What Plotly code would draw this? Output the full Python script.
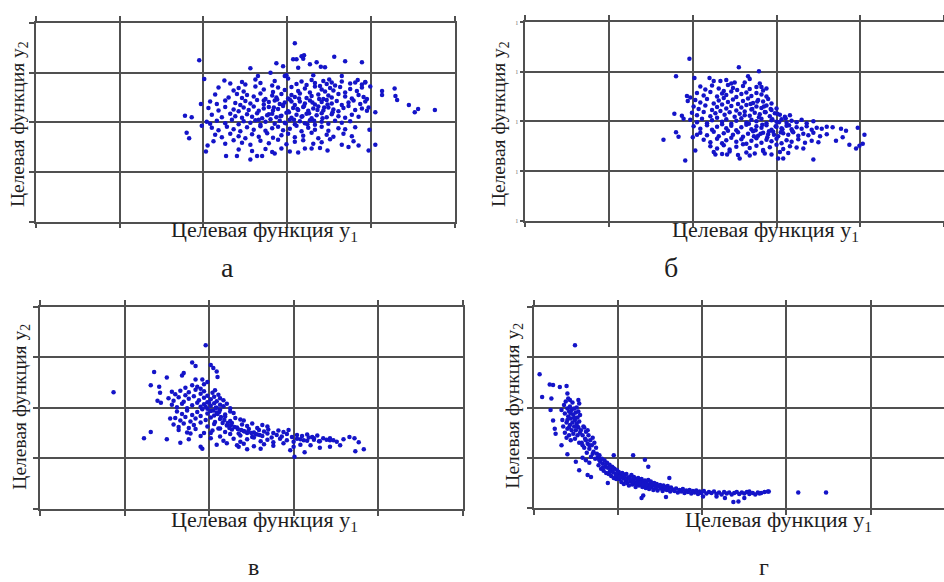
import plotly.graph_objects as go

W, H = 944, 582

# ---------------- data (grid units) ----------------
# panel а : (y1, y2)
pts_a = [
    (3.09,3.59),(1.95,3.25),(2.01,2.87),(2.56,3.09),(2.87,3.19),(2.95,3.13),(3.11,3.27),(3.17,3.33),
    (3.20,3.35),(3.19,3.28),(3.27,3.17),(3.35,3.21),(3.40,3.12),(3.45,3.11),(3.56,3.32),(3.69,3.23),
    (3.89,3.21),(3.13,3.10),(3.07,3.27),(2.80,3.00),(2.97,2.93),(2.99,2.95),(2.65,2.93),(3.31,2.95),
    (3.65,2.93),(3.81,2.80),(3.93,2.80),(3.99,2.72),(4.13,2.63),(4.13,2.55),(4.28,2.68),(4.29,2.53),
    (4.31,2.45),(4.45,2.35),(4.52,2.20),(4.56,2.27),(4.76,2.25),(4.05,2.20),(3.97,2.30),(3.95,2.47),
    (3.98,1.85),(4.05,1.55),(3.97,1.43),(1.78,2.13),(1.86,2.10),(1.80,1.79),(1.83,1.68),(1.98,1.93),
    (1.97,2.37),(2.03,1.41),(2.05,1.53),(2.27,1.32),(2.40,1.32),(2.56,1.25),(2.64,1.32),(2.70,1.32),
    (2.85,1.37),(2.93,1.47),(3.03,1.41),(3.13,1.39),(3.21,1.47),(3.29,1.47),(3.39,1.48),(3.48,1.43),
    (3.73,1.50),(3.85,1.53),
    (2.25,2.84),(2.32,2.78),(2.46,2.81),(2.50,2.76),(2.62,2.86),(2.68,2.79),(2.82,2.74),(2.85,2.83),
    (3.01,2.88),(3.11,2.77),(3.17,2.82),(3.23,2.75),(3.29,2.85),(3.33,2.79),(3.39,2.73),(3.43,2.83),
    (3.47,2.77),(3.50,2.86),(3.53,2.80),(3.57,2.74),(3.65,2.82),(3.75,2.78),(3.84,2.85),(3.89,2.76),
    (3.93,2.81),
    (2.18,2.70),(2.36,2.64),(2.42,2.69),(2.48,2.62),(2.62,2.72),(2.72,2.66),(2.83,2.61),(2.89,2.70),
    (2.97,2.65),(3.05,2.71),(3.13,2.63),(3.21,2.68),(3.27,2.60),(3.33,2.72),(3.41,2.66),(3.45,2.62),
    (3.51,2.69),(3.55,2.64),(3.63,2.71),(3.69,2.60),(3.75,2.67),(3.83,2.63),(3.89,2.70),
    (2.14,2.56),(2.30,2.50),(2.40,2.57),(2.46,2.49),(2.52,2.55),(2.60,2.52),(2.68,2.58),(2.74,2.47),
    (2.82,2.54),(2.87,2.50),(2.93,2.57),(3.01,2.48),(3.05,2.55),(3.09,2.51),(3.15,2.58),(3.23,2.49),
    (3.29,2.53),(3.37,2.56),(3.43,2.47),(3.49,2.54),(3.53,2.50),(3.61,2.57),(3.69,2.52),(3.77,2.48),
    (3.85,2.55),(3.91,2.51),
    (2.08,2.42),(2.16,2.37),(2.26,2.44),(2.38,2.39),(2.44,2.35),(2.50,2.43),(2.56,2.38),(2.64,2.45),
    (2.72,2.36),(2.78,2.41),(2.85,2.44),(2.91,2.37),(2.97,2.40),(3.03,2.46),(3.09,2.35),(3.15,2.42),
    (3.21,2.38),(3.27,2.44),(3.33,2.36),(3.41,2.41),(3.47,2.45),(3.53,2.38),(3.59,2.43),(3.65,2.35),
    (3.73,2.40),(3.79,2.44),(3.87,2.37),(3.93,2.42),
    (2.06,2.29),(2.18,2.24),(2.26,2.31),(2.36,2.26),(2.42,2.22),(2.48,2.30),(2.54,2.25),(2.60,2.32),
    (2.66,2.23),(2.72,2.28),(2.78,2.31),(2.83,2.24),(2.89,2.27),(2.95,2.33),(3.01,2.22),(3.07,2.29),
    (3.13,2.25),(3.19,2.31),(3.25,2.23),(3.31,2.28),(3.37,2.32),(3.43,2.24),(3.49,2.30),(3.55,2.26),
    (3.61,2.22),(3.67,2.29),(3.73,2.33),(3.81,2.25),(3.89,2.28),(3.95,2.23),
    (2.10,2.15),(2.22,2.10),(2.32,2.17),(2.38,2.12),(2.46,2.09),(2.52,2.16),(2.58,2.11),(2.64,2.18),
    (2.70,2.08),(2.76,2.14),(2.82,2.17),(2.87,2.10),(2.93,2.13),(2.99,2.19),(3.05,2.09),(3.11,2.15),
    (3.17,2.11),(3.23,2.17),(3.29,2.08),(3.35,2.14),(3.41,2.18),(3.47,2.10),(3.53,2.16),(3.61,2.12),
    (3.69,2.09),(3.77,2.15),(3.85,2.11),
    (2.04,2.01),(2.08,1.97),(2.16,2.03),(2.26,1.98),(2.34,2.05),(2.42,1.96),(2.48,2.02),(2.56,1.99),
    (2.62,2.04),(2.68,1.95),(2.74,2.01),(2.80,2.06),(2.85,1.97),(2.91,2.03),(2.97,1.99),(3.03,2.05),
    (3.09,1.96),(3.15,2.02),(3.21,1.98),(3.27,2.04),(3.33,1.95),(3.41,2.01),(3.49,1.97),(3.57,2.03),
    (3.65,1.99),(3.75,2.02),
    (2.10,1.89),(2.18,1.84),(2.28,1.91),(2.36,1.86),(2.44,1.82),(2.52,1.90),(2.60,1.85),(2.68,1.92),
    (2.74,1.83),(2.82,1.88),(2.89,1.91),(2.95,1.84),(3.03,1.87),(3.11,1.93),(3.17,1.82),(3.25,1.89),
    (3.33,1.85),(3.41,1.91),(3.49,1.83),(3.61,1.88),(3.69,1.86),(3.81,1.90),
    (2.14,1.75),(2.22,1.70),(2.32,1.77),(2.42,1.72),(2.50,1.68),(2.58,1.76),(2.66,1.71),(2.76,1.78),
    (2.83,1.69),(2.93,1.74),(3.01,1.77),(3.09,1.70),(3.19,1.73),(3.29,1.79),(3.37,1.68),(3.47,1.75),
    (3.55,1.71),(3.67,1.77),(3.77,1.72),
    (2.12,1.62),(2.26,1.57),(2.36,1.64),(2.46,1.59),(2.56,1.55),(2.68,1.63),(2.78,1.58),(2.89,1.65),
    (2.99,1.56),(3.09,1.61),(3.19,1.64),(3.31,1.57),(3.41,1.60),(3.51,1.66),(3.65,1.55),(3.79,1.62),
    (2.42,1.45),(2.58,1.42),(2.74,1.46),(2.82,1.40),
    (2.88,2.46),(2.95,2.35),(3.02,2.20),(3.08,2.05),(3.14,2.48),(3.20,2.33),(3.26,2.18),(3.32,2.03),
    (3.38,2.47),(3.44,2.30),(2.92,2.12),(2.98,1.98),(3.05,2.42),(3.12,2.27),(3.18,2.12),(3.24,1.96),
    (3.30,2.40),(3.36,2.25),(3.42,2.08),(2.84,2.30),(2.78,2.16),(2.72,2.44),(2.66,2.05),(3.48,2.36),
    (3.54,2.20),
]

# panel б : (y1, y2)
pts_b = [
    (1.96,3.26),(1.80,2.91),(2.02,2.87),(2.55,3.09),(2.79,3.01),(2.66,2.91),(2.68,2.85),(2.62,2.78),
    (2.80,2.76),(2.82,2.69),(2.20,2.87),(2.25,2.81),(2.33,2.81),(2.40,2.83),(2.46,2.76),(2.50,2.78),
    (1.93,2.51),(1.94,2.41),(1.97,2.48),(1.78,2.15),(1.87,2.11),(1.89,2.05),(1.65,1.63),(1.80,1.78),
    (1.83,1.69),(1.91,1.21),(2.00,1.68),(2.05,1.73),(2.03,1.41),(2.27,1.33),(2.41,1.33),(2.56,1.25),
    (2.68,1.31),(2.86,1.35),(3.02,1.25),(3.08,1.25),(3.44,1.23),(3.67,1.88),(3.77,1.85),(3.83,1.81),
    (3.97,1.87),(4.05,1.73),(4.03,1.55),(3.99,1.51),(3.95,1.45),(3.87,1.53),(3.71,1.61),(3.79,1.68),
    (2.09,2.70),(2.15,2.64),(2.23,2.72),(2.31,2.66),(2.37,2.61),(2.42,2.73),(2.48,2.67),(2.53,2.63),
    (2.60,2.71),(2.68,2.65),(2.76,2.69),(2.84,2.62),(2.88,2.66),
    (2.05,2.57),(2.13,2.52),(2.21,2.59),(2.29,2.50),(2.35,2.56),(2.40,2.53),(2.46,2.60),(2.52,2.49),
    (2.58,2.55),(2.64,2.58),(2.70,2.51),(2.76,2.57),(2.82,2.54),(2.88,2.50),
    (2.03,2.43),(2.09,2.38),(2.17,2.45),(2.25,2.36),(2.31,2.42),(2.37,2.47),(2.42,2.39),(2.48,2.44),
    (2.54,2.35),(2.60,2.41),(2.66,2.46),(2.72,2.37),(2.78,2.43),(2.84,2.40),(2.90,2.45),(2.94,2.36),
    (2.01,2.30),(2.07,2.25),(2.15,2.32),(2.23,2.23),(2.29,2.29),(2.35,2.34),(2.40,2.26),(2.46,2.31),
    (2.52,2.22),(2.58,2.28),(2.64,2.33),(2.70,2.24),(2.76,2.30),(2.82,2.27),(2.88,2.32),(2.94,2.23),
    (3.00,2.26),
    (1.99,2.17),(2.05,2.12),(2.13,2.19),(2.21,2.10),(2.27,2.16),(2.33,2.21),(2.38,2.13),(2.44,2.18),
    (2.50,2.09),(2.56,2.15),(2.62,2.20),(2.68,2.11),(2.74,2.17),(2.80,2.14),(2.86,2.19),(2.92,2.10),
    (2.98,2.16),(3.04,2.13),(3.10,2.09),(3.16,2.12),
    (1.97,2.03),(2.05,1.98),(2.11,2.05),(2.17,1.96),(2.23,2.02),(2.29,2.07),(2.35,1.99),(2.40,2.04),
    (2.46,1.95),(2.52,2.01),(2.58,2.06),(2.64,1.97),(2.70,2.03),(2.76,2.00),(2.82,2.05),(2.88,1.96),
    (2.94,2.02),(3.00,1.99),(3.06,2.04),(3.12,1.97),(3.18,2.01),(3.24,1.98),(3.30,2.03),(3.36,1.96),
    (3.44,2.00),
    (2.01,1.90),(2.09,1.85),(2.17,1.92),(2.23,1.83),(2.29,1.89),(2.35,1.94),(2.40,1.86),(2.46,1.91),
    (2.52,1.82),(2.58,1.88),(2.64,1.93),(2.70,1.84),(2.76,1.90),(2.82,1.87),(2.88,1.92),(2.94,1.83),
    (3.00,1.89),(3.06,1.86),(3.12,1.91),(3.18,1.84),(3.24,1.88),(3.30,1.85),(3.36,1.90),(3.42,1.83),
    (3.48,1.87),(3.54,1.85),(3.60,1.89),
    (2.09,1.77),(2.17,1.72),(2.25,1.79),(2.31,1.70),(2.37,1.76),(2.42,1.81),(2.48,1.73),(2.54,1.78),
    (2.60,1.69),(2.66,1.75),(2.72,1.80),(2.78,1.71),(2.84,1.77),(2.90,1.74),(2.96,1.79),(3.02,1.70),
    (3.08,1.76),(3.14,1.73),(3.20,1.78),(3.26,1.71),(3.32,1.75),(3.38,1.72),(3.44,1.77),(3.52,1.70),
    (3.60,1.74),
    (2.13,1.63),(2.21,1.58),(2.29,1.65),(2.35,1.56),(2.40,1.62),(2.46,1.67),(2.52,1.59),(2.58,1.64),
    (2.64,1.55),(2.70,1.61),(2.76,1.66),(2.82,1.57),(2.88,1.63),(2.94,1.60),(3.00,1.65),(3.06,1.56),
    (3.12,1.62),(3.18,1.59),(3.26,1.64),(3.34,1.57),(3.42,1.61),(3.50,1.58),
    (2.21,1.50),(2.29,1.45),(2.37,1.52),(2.44,1.43),(2.52,1.49),(2.60,1.54),(2.68,1.46),(2.76,1.51),
    (2.84,1.42),(2.92,1.48),(3.00,1.53),(3.08,1.44),(3.16,1.50),(3.24,1.47),(3.32,1.45),
    (2.25,1.38),(2.35,1.34),(2.44,1.39),(2.54,1.32),(2.64,1.37),(2.74,1.35),(2.84,1.40),(2.94,1.33),
    (3.04,1.38),(3.14,1.36),
    (2.62,2.12),(2.67,1.95),(2.71,2.25),(2.75,1.82),(2.79,2.08),(2.83,1.93),(2.87,2.18),(2.91,1.80),
    (2.95,2.04),(2.99,1.90),(3.03,1.98),(3.07,1.84),(3.11,2.06),(3.15,1.92),(3.19,1.80),(2.73,1.70),
    (2.81,1.75),(2.89,1.68),(2.97,1.73),(3.05,1.78),(2.85,2.30),(2.93,2.25),(2.77,2.40),(2.69,2.35),
    (3.01,2.15),
]

# panel в : (y1, y2)
pts_c = [
    (0.87,2.31),(1.96,3.24),(1.80,2.90),(1.84,2.83),(2.02,2.85),(2.05,2.79),(2.09,2.72),(2.10,2.61),
    (1.35,2.71),(1.50,2.60),(1.31,2.45),(1.41,2.42),(1.42,2.30),(1.39,2.14),(1.43,2.10),(1.70,2.69),
    (1.68,2.64),(1.84,2.56),(1.92,2.56),(1.98,2.51),(1.23,1.40),(1.31,1.52),(1.50,1.38),(1.54,1.79),
    (1.66,1.31),(1.76,1.38),(1.90,1.23),(1.92,1.19),(2.09,1.27),(2.35,1.23),(2.45,1.18),(2.61,1.19),
    (3.01,1.03),(2.96,1.16),(3.13,1.12),(3.31,1.21),(3.43,1.23),(3.55,1.26),(3.66,1.42),(3.72,1.40),
    (3.77,1.32),(3.83,1.18),(3.73,1.14),(3.47,1.36),(3.43,1.40),
    (1.80,2.45),(1.86,2.42),(1.90,2.38),(1.94,2.47),(1.72,2.40),
    (1.56,2.32),(1.60,2.27),(1.66,2.34),(1.72,2.25),(1.76,2.31),(1.84,2.36),(1.90,2.28),(1.94,2.33),
    (1.98,2.24),(2.04,2.30),(2.07,2.35),(2.11,2.26),
    (1.52,2.19),(1.58,2.14),(1.64,2.21),(1.70,2.12),(1.76,2.18),(1.82,2.23),(1.88,2.15),(1.94,2.20),
    (1.98,2.11),(2.02,2.17),(2.06,2.22),(2.09,2.13),(2.13,2.19),(2.17,2.15),
    (1.56,2.06),(1.62,2.01),(1.68,2.08),(1.74,1.99),(1.80,2.05),(1.86,2.10),(1.90,2.02),(1.94,2.07),
    (1.98,1.98),(2.02,2.04),(2.06,2.09),(2.09,2.00),(2.13,2.06),(2.17,2.03),(2.21,2.08),(2.25,1.99),
    (1.62,1.93),(1.68,1.88),(1.74,1.95),(1.80,1.86),(1.86,1.92),(1.92,1.97),(1.98,1.89),(2.02,1.94),
    (2.06,1.85),(2.09,1.91),(2.13,1.96),(2.19,1.87),(2.25,1.93),(2.29,1.90),
    (1.60,1.80),(1.66,1.75),(1.72,1.82),(1.78,1.73),(1.84,1.79),(1.90,1.84),(1.96,1.76),(2.02,1.81),
    (2.07,1.72),(2.13,1.78),(2.19,1.83),(2.25,1.74),(2.31,1.80),(2.37,1.77),(2.41,1.75),
    (1.58,1.67),(1.64,1.62),(1.70,1.69),(1.76,1.60),(1.82,1.66),(1.90,1.71),(1.98,1.63),(2.06,1.68),
    (2.13,1.59),(2.21,1.65),(2.27,1.70),(2.33,1.61),(2.39,1.67),(2.45,1.64),(2.51,1.69),(2.57,1.60),
    (2.63,1.66),(2.69,1.63),
    (1.64,1.56),(1.74,1.51),(1.84,1.58),(1.94,1.50),(2.04,1.55),(2.11,1.59),(2.19,1.52),(2.27,1.57),
    (2.35,1.49),(2.41,1.54),(2.47,1.58),(2.53,1.51),(2.59,1.56),(2.65,1.53),(2.70,1.57),(2.76,1.50),
    (2.82,1.55),(2.88,1.52),(2.94,1.56),
    (1.78,1.49),(1.90,1.44),(2.02,1.50),(2.13,1.43),(2.25,1.48),(2.37,1.45),(2.45,1.50),(2.51,1.42),
    (2.57,1.47),(2.63,1.44),(2.69,1.49),(2.74,1.41),(2.80,1.46),(2.86,1.43),(2.92,1.48),(2.98,1.42),
    (3.04,1.46),(3.10,1.44),(3.16,1.47),(3.22,1.42),(3.28,1.45),
    (2.02,1.40),(2.17,1.35),(2.29,1.39),(2.37,1.33),(2.45,1.38),(2.53,1.41),(2.61,1.34),(2.69,1.37),
    (2.76,1.32),(2.84,1.39),(2.92,1.36),(3.00,1.33),(3.08,1.38),(3.16,1.35),(3.24,1.40),(3.31,1.34),
    (3.39,1.37),
    (2.21,1.30),(2.33,1.26),(2.41,1.29),(2.53,1.24),(2.65,1.28),(2.76,1.25),(2.88,1.30),(3.00,1.23),
    (3.08,1.27),(3.20,1.26),
    (3.04,1.39),(3.12,1.36),(3.18,1.41),(3.24,1.37),(3.30,1.34),(3.35,1.40),(3.43,1.36),(3.51,1.33),
    (3.59,1.38),
    (2.05,1.95),(2.10,1.88),(2.14,1.82),(2.18,1.76),(2.22,1.70),(2.26,1.66),(2.30,1.62),(2.34,1.58),
    (2.38,1.56),(2.42,1.53),(2.46,1.52),(2.50,1.50),(2.55,1.48),(2.60,1.46),(2.08,2.00),(2.12,1.92),
    (2.00,2.10),(1.96,2.02),(2.16,1.70),(2.24,1.60),
]

# panel г : (y1, y2)
pts_d = [
    (0.49,3.24),(0.07,2.66),(0.10,2.21),(0.19,2.46),(0.23,2.45),(0.31,2.41),(0.39,2.43),(0.40,2.28),
    (0.21,2.18),(0.43,2.15),(0.53,2.15),(0.54,2.08),(0.20,1.95),(0.23,1.74),(0.25,1.58),(0.26,1.48),
    (0.33,1.25),(0.40,1.07),(0.50,0.92),(0.54,0.75),(0.64,0.66),(0.68,0.62),(0.88,0.50),(0.95,1.05),
    (1.18,1.05),(1.32,0.96),(1.36,0.82),(1.61,0.60),(1.28,0.20),(1.30,0.25),(1.57,0.22),(3.14,0.31),
    (3.47,0.31),(2.78,0.33),(2.68,0.29),(2.56,0.33),(2.50,0.20),(2.43,0.13),(2.37,0.12),(2.27,0.20),
    (2.17,0.23),(2.01,0.23),
    (0.33,1.95),(0.34,1.75),(0.35,1.62),(0.36,2.05),(0.37,1.88),(0.37,1.50),(0.38,2.12),(0.39,1.70),
    (0.39,1.40),(0.40,1.98),(0.40,1.58),(0.41,1.82),(0.41,2.18),(0.42,1.45),(0.42,1.92),(0.43,1.65),
    (0.43,2.02),(0.44,1.78),(0.44,1.35),(0.45,1.55),(0.45,1.95),(0.46,1.70),(0.46,2.10),(0.47,1.86),
    (0.47,1.48),(0.48,1.62),(0.48,1.98),(0.49,1.75),(0.49,1.38),(0.50,1.90),(0.50,1.55),(0.51,1.68),
    (0.51,2.00),(0.52,1.45),(0.52,1.80),(0.53,1.60),(0.53,1.92),(0.54,1.30),(0.54,1.72),(0.55,1.50),
    (0.55,1.85),
    (0.56,1.55),(0.57,1.30),(0.58,1.45),(0.59,1.62),(0.60,1.20),(0.61,1.38),(0.62,1.52),(0.63,1.10),
    (0.64,1.28),(0.65,1.45),(0.66,1.18),(0.67,1.35),(0.68,1.02),(0.69,1.25),(0.70,1.40),(0.71,1.12),
    (0.72,1.30),(0.73,0.98),(0.74,1.20),(0.75,1.08),(0.58,1.00),(0.62,0.95),(0.66,0.90),(0.60,1.60),
    (0.64,1.55),
    (0.76,1.00),(0.77,0.85),(0.78,1.05),(0.79,0.92),(0.80,0.78),(0.81,0.98),(0.82,0.88),(0.83,0.74),
    (0.84,0.95),(0.85,0.82),(0.86,0.70),(0.87,0.90),(0.88,0.80),(0.89,0.68),(0.90,0.86),(0.91,0.76),
    (0.92,0.64),(0.93,0.82),(0.94,0.72),(0.95,0.60),(0.96,0.78),(0.97,0.68),(0.98,0.58),(0.99,0.75),
    (1.00,0.65),
    (1.01,0.72),(1.02,0.58),(1.03,0.66),(1.04,0.52),(1.05,0.70),(1.06,0.60),(1.07,0.48),(1.08,0.64),
    (1.09,0.55),(1.10,0.68),(1.11,0.50),(1.12,0.60),(1.13,0.45),(1.14,0.62),(1.15,0.53),(1.16,0.66),
    (1.17,0.47),(1.18,0.57),(1.19,0.62),(1.20,0.50),(1.21,0.42),(1.22,0.58),(1.23,0.52),(1.24,0.60),
    (1.25,0.45),(1.26,0.55),(1.27,0.49),(1.28,0.58),(1.29,0.42),(1.30,0.52),
    (1.31,0.46),(1.32,0.55),(1.33,0.40),(1.34,0.50),(1.35,0.44),(1.36,0.56),(1.37,0.38),(1.38,0.48),
    (1.39,0.53),(1.40,0.42),(1.41,0.47),(1.42,0.36),(1.43,0.50),(1.44,0.44),(1.45,0.40),(1.46,0.48),
    (1.47,0.35),(1.48,0.43),(1.50,0.46),(1.51,0.39),(1.52,0.42),(1.53,0.34),(1.54,0.45),(1.55,0.38),
    (1.56,0.42),(1.58,0.36),(1.59,0.44),(1.60,0.39),(1.62,0.33),(1.63,0.41),(1.65,0.37),
    (1.67,0.34),(1.69,0.39),(1.71,0.31),(1.73,0.36),(1.75,0.33),(1.77,0.38),(1.79,0.30),(1.81,0.35),
    (1.83,0.32),(1.85,0.36),(1.87,0.29),(1.89,0.34),(1.91,0.31),(1.93,0.35),(1.95,0.28),(1.97,0.33),
    (1.99,0.30),(2.02,0.34),(2.05,0.29),(2.08,0.32),
    (2.11,0.30),(2.14,0.33),(2.17,0.28),(2.20,0.31),(2.23,0.27),(2.26,0.32),(2.29,0.29),(2.32,0.31),
    (2.35,0.27),(2.38,0.30),(2.41,0.32),(2.44,0.28),(2.47,0.31),(2.50,0.29),(2.53,0.32),(2.56,0.28),
    (2.60,0.30),(2.63,0.27),(2.66,0.31),(2.70,0.30),(2.74,0.32),(2.79,0.33),
    (0.78,0.95),(0.82,0.80),(0.86,0.88),(0.90,0.72),(0.94,0.80),(0.98,0.66),(1.02,0.62),(1.06,0.68),
    (1.10,0.56),(1.14,0.58),(1.18,0.52),(1.22,0.48),(1.26,0.51),(1.30,0.47),(1.34,0.46),(1.38,0.42),
    (0.70,1.08),(0.66,1.25),(0.62,1.35),(0.58,1.25),(0.52,1.62),(0.48,1.80),(0.44,1.88),(0.40,1.75),
    (0.42,1.60),
]

grid_x = [0, 1, 2, 3, 4, 5]
grid_y = [0, 1, 2, 3, 4]
title_x = "Целевая функция у<sub>1</sub>"
title_y = "Целевая функция у<sub>2</sub>"
panel_labels = ["а", "б", "в", "г"]

# ---------------- figure ----------------
GRID = "#505050"
DOT = "#1414c8"
FONT = "Times New Roman, Liberation Serif, DejaVu Serif, serif"

def px_x(p):
    return p / W

def px_y(p):
    return 1 - p / H

# panel frames (pixel positions of the frame)
frames = [
    dict(x0=35.7, x1=455.0, y0=19.3, y1=221.0, xr=[0, 5], ymirror=True, ylab=False),
    dict(x0=525.3, x1=944.0, y0=18.3, y1=220.0, xr=[0, 5], ymirror=False, ylab=True),
    dict(x0=40.0, x1=462.7, y0=307.7, y1=512.7, xr=[0, 5], ymirror=True, ylab=False),
    dict(x0=533.7, x1=944.0, y0=307.7, y1=512.0, xr=[0, 4.87], ymirror=False, ylab=False),
]
datasets = [pts_a, pts_b, pts_c, pts_d]

fig = go.Figure()
layout = dict(
    width=W, height=H, margin=dict(l=0, r=0, t=0, b=0),
    paper_bgcolor="white", plot_bgcolor="white", showlegend=False,
)

for i, (fr, pts) in enumerate(zip(frames, datasets)):
    n = "" if i == 0 else str(i + 1)
    xa, ya = "x" + n, "y" + n
    fig.add_trace(go.Scatter(
        x=[p[0] for p in pts], y=[p[1] for p in pts], mode="markers",
        marker=dict(size=4.5, color=DOT, line=dict(width=0)),
        xaxis=xa, yaxis=ya, hoverinfo="skip",
    ))
    layout["xaxis" + n] = dict(
        domain=[px_x(fr["x0"]), px_x(fr["x1"])], range=fr["xr"], anchor=ya,
        tickmode="array", tickvals=grid_x, showticklabels=False,
        ticks="outside", ticklen=5, tickwidth=1.5, tickcolor=GRID,
        showgrid=True, gridcolor=GRID, gridwidth=1.5,
        showline=True, linecolor=GRID, linewidth=1.5, mirror="ticks",
        zeroline=False, fixedrange=True,
    )
    yax = dict(
        domain=[px_y(fr["y1"]), px_y(fr["y0"])], range=[0, 4], anchor=xa,
        tickmode="array", tickvals=grid_y,
        ticks="outside", ticklen=5 if not fr["ylab"] else 4, tickwidth=1.5, tickcolor=GRID,
        showgrid=True, gridcolor=GRID, gridwidth=1.5,
        showline=True, linecolor=GRID, linewidth=1.5, mirror=fr["ymirror"],
        zeroline=False, fixedrange=True,
    )
    if fr["ylab"]:
        yax.update(showticklabels=True, ticktext=["ı"] * len(grid_y),
                   tickfont=dict(size=8, color="#8a8a8a", family=FONT))
    else:
        yax.update(showticklabels=False)
    layout["yaxis" + n] = yax

def ann(text, x, y, size, angle=0):
    return dict(text=text, x=px_x(x), y=px_y(y), xref="paper", yref="paper",
                showarrow=False, textangle=angle, xanchor="center", yanchor="middle",
                font=dict(family=FONT, size=size, color="#1e1e1e"))

annotations = [
    ann(title_x, 264, 231, 22), ann(title_y, 19, 122, 19.5, -90),
    ann(title_x, 765, 231, 22), ann(title_y, 500, 122, 19.5, -90),
    ann(title_x, 264, 525, 22), ann(title_y, 21, 409, 19.5, -90),
    ann(title_x, 778, 525, 22), ann(title_y, 514, 408, 19.5, -90),
    ann(panel_labels[0], 227.5, 267.5, 28), ann(panel_labels[1], 670.8, 267.5, 28),
    ann(panel_labels[2], 253, 572, 24), ann(panel_labels[3], 764, 572, 24),
]
layout["annotations"] = annotations
fig.update_layout(**layout)

fig.write_html(
    "out.html",
    config={"displayModeBar": False},
    post_script="document.body.style.margin='0';document.body.style.overflow='hidden';",
)
